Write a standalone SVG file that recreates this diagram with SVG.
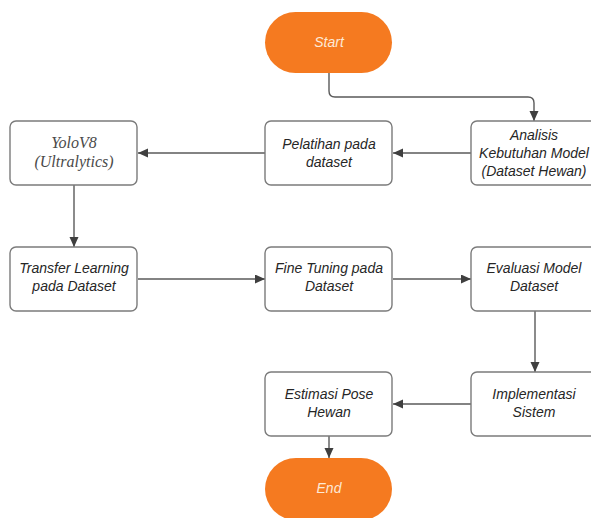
<svg xmlns="http://www.w3.org/2000/svg" width="591" height="518" viewBox="0 0 591 518">
<defs>
<style>
.box{fill:#ffffff;stroke:#7b7b7b;stroke-width:1.4}
.term{fill:#f57a20}
.t{font-family:"Liberation Sans",Arial,sans-serif;font-style:italic;font-size:14px;fill:#262626;text-anchor:middle}
.ts{font-family:"Liberation Serif","Times New Roman",serif;font-style:italic;font-size:16px;fill:#4a4a4a;text-anchor:middle}
.tw{font-family:"Liberation Sans",Arial,sans-serif;font-style:italic;font-size:14px;fill:#fde9d6;text-anchor:middle}
.c{fill:none;stroke:#5a5a5a;stroke-width:1.4;marker-end:url(#ah)}
</style>
<marker id="ah" markerUnits="userSpaceOnUse" markerWidth="11" markerHeight="10" refX="10" refY="4.5" orient="auto">
<path d="M0,0 L10,4.5 L0,9 z" fill="#3f3f3f"/>
</marker>
</defs>
<rect width="591" height="518" fill="#ffffff"/>
<g id="connectors">
<path class="c" d="M329,73 V91 Q329,97 335,97 H528 Q534,97 534,103 V121"/>
<path class="c" d="M471,153 H393"/>
<path class="c" d="M265,153 H138"/>
<path class="c" d="M74,185 V247"/>
<path class="c" d="M138,279 H265"/>
<path class="c" d="M393,279 H471"/>
<path class="c" d="M535,311 V372"/>
<path class="c" d="M471,404 H393"/>
<path class="c" d="M329,436 V458"/>
</g>
<g id="start">
<rect class="term" x="265" y="12" width="127" height="61" rx="30.5"/>
<text class="tw" x="329" y="47">Start</text>
</g>
<g id="analisis">
<rect class="box" x="471" y="121" width="128" height="64" rx="6"/>
<text class="t" x="534" y="140">Analisis</text>
<text class="t" x="534" y="158">Kebutuhan Model</text>
<text class="t" x="534" y="176">(Dataset Hewan)</text>
</g>
<g id="pelatihan">
<rect class="box" x="265" y="121" width="127" height="64" rx="6"/>
<text class="t" x="329" y="149">Pelatihan pada</text>
<text class="t" x="329" y="167">dataset</text>
</g>
<g id="yolo">
<rect class="box" x="10" y="121" width="127" height="64" rx="6"/>
<text class="ts" x="74" y="148">YoloV8</text>
<text class="ts" x="74" y="167">(Ultralytics)</text>
</g>
<g id="transfer">
<rect class="box" x="10" y="247" width="127" height="64" rx="6"/>
<text class="t" x="74" y="273">Transfer Learning</text>
<text class="t" x="74" y="291">pada Dataset</text>
</g>
<g id="finetuning">
<rect class="box" x="265" y="247" width="127" height="64" rx="6"/>
<text class="t" x="329" y="273">Fine Tuning pada</text>
<text class="t" x="329" y="291">Dataset</text>
</g>
<g id="evaluasi">
<rect class="box" x="471" y="247" width="128" height="64" rx="6"/>
<text class="t" x="534" y="273">Evaluasi Model</text>
<text class="t" x="534" y="291">Dataset</text>
</g>
<g id="implementasi">
<rect class="box" x="471" y="372" width="128" height="64" rx="6"/>
<text class="t" x="534" y="399">Implementasi</text>
<text class="t" x="534" y="417">Sistem</text>
</g>
<g id="estimasi">
<rect class="box" x="265" y="372" width="127" height="64" rx="6"/>
<text class="t" x="329" y="399">Estimasi Pose</text>
<text class="t" x="329" y="417">Hewan</text>
</g>
<g id="end">
<rect class="term" x="265" y="458" width="127" height="62" rx="31"/>
<text class="tw" x="329" y="493">End</text>
</g>
</svg>
